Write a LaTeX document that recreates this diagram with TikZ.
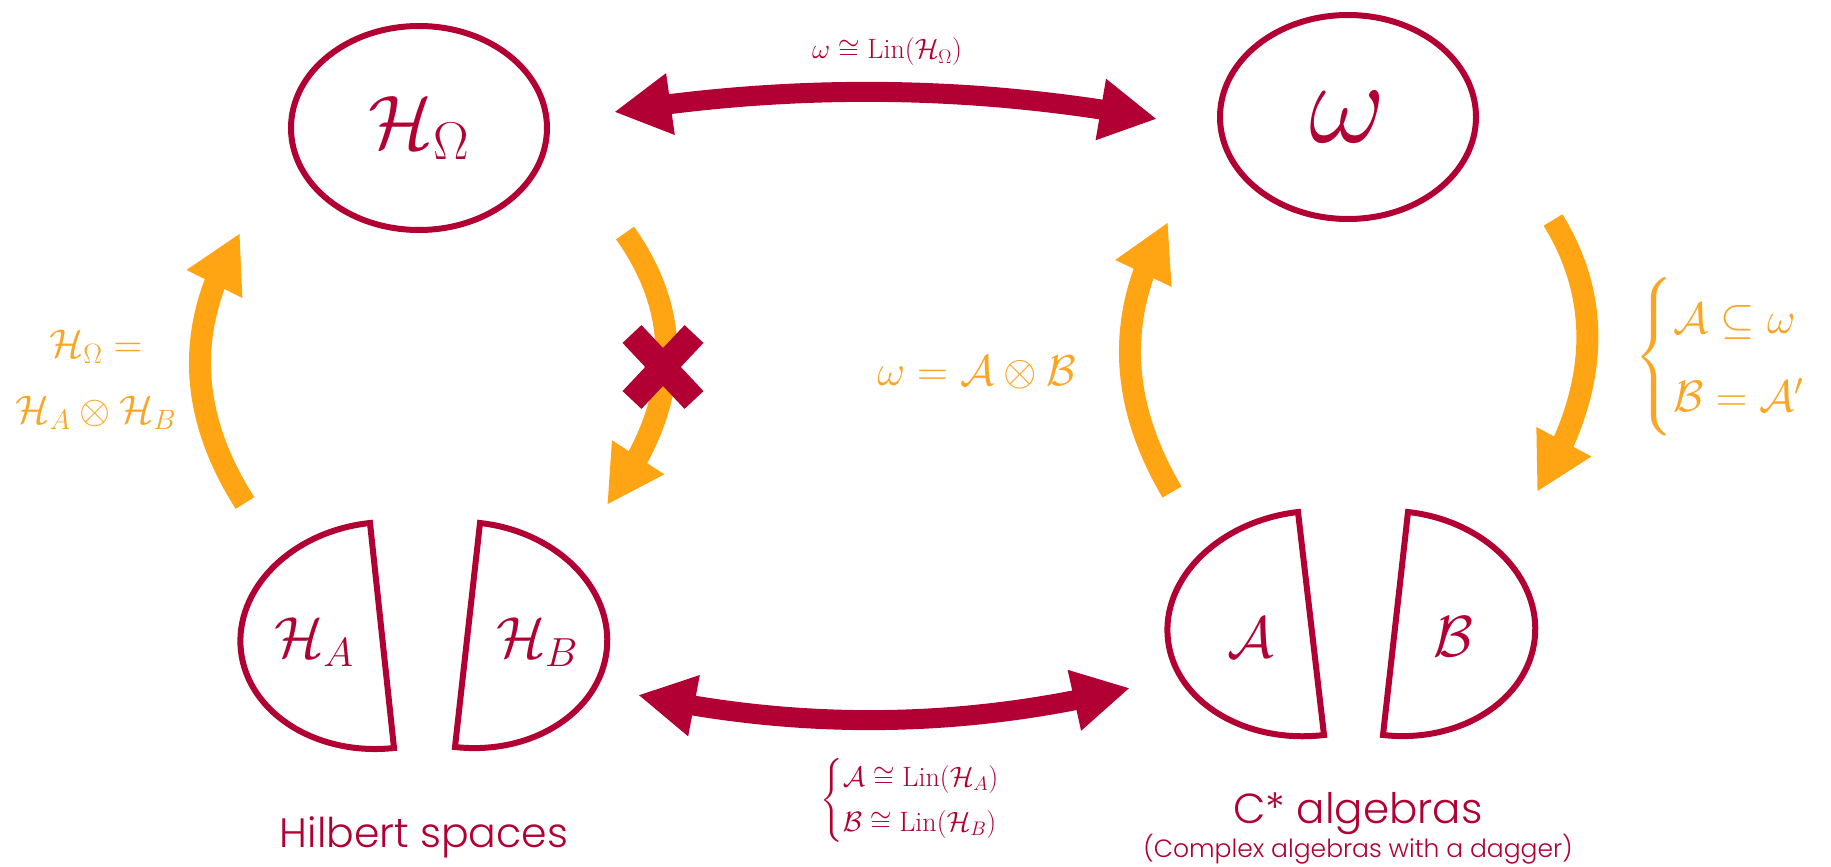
\RequirePackage{fix-cm}
\documentclass[tikz,border=0pt]{standalone}
\usepackage{amsmath,amssymb}
\usepackage{fontspec}
\newfontfamily\popfont{Poppins Light}
\usetikzlibrary{arrows.meta,bending,shapes.geometric}
\definecolor{myred}{RGB}{178,0,52}
\definecolor{myorange}{RGB}{255,165,20}
\definecolor{lblorange}{RGB}{250,165,35}
\tikzset{
  bigell/.style={ellipse, draw=myred, line width=6pt, minimum width=256pt, minimum height=204pt, inner sep=0pt, text=myred},
  piece/.style={draw=myred, line width=6pt},
  redarrow/.style={draw=myred, line width=20pt, {Triangle[length=57pt,width=58pt]}-{Triangle[length=57pt,width=58pt]}},
  orarrow/.style={draw=myorange, line width=22pt, -{Triangle[length=57pt,width=58pt]}},
  xbar/.style={draw=myred, line width=26pt, line cap=butt},
  redlbl/.style={text=myred, inner sep=0pt},
  orlbl/.style={text=lblorange, inner sep=0pt},
}
\begin{document}
\begin{tikzpicture}[x=1pt,y=-1pt]
\useasboundingbox (0,0) rectangle (1831,867);
\fill[white] (0,0) rectangle (1831,867);

% top ellipses
\node[bigell, font=\fontsize{76}{84}\selectfont] (HO) at (419,128) {$\mathcal{H}_\Omega$};
\node[bigell, font=\fontsize{118}{130}\selectfont] (W) at (1348,117) {$\omega$};

% bottom split shapes
\draw[piece] (370,523) .. controls (292.1,531.3) and (234.3,588.6) .. (240.9,650.6)
  .. controls (247.5,712.6) and (316.1,756.3) .. (394,748) -- cycle;
\draw[piece] (480,523) .. controls (556.8,531.6) and (613.6,588.7) .. (606.7,650.5)
  .. controls (599.8,712.3) and (531.8,755.6) .. (455,747) -- cycle;
\draw[piece] (1298,512) .. controls (1219.1,521.2) and (1160.8,578.6) .. (1168.0,640.2)
  .. controls (1175.2,701.8) and (1245.1,744.2) .. (1324,735) -- cycle;
\draw[piece] (1408,512) .. controls (1484.8,520.6) and (1541.6,577.4) .. (1534.7,639.0)
  .. controls (1527.8,700.6) and (1459.8,743.6) .. (1383,735) -- cycle;

\node[redlbl, font=\fontsize{58}{64}\selectfont] (HA) at (314,642) {$\mathcal{H}_A$};
\node[redlbl, font=\fontsize{58}{64}\selectfont] (HB) at (537,642) {$\mathcal{H}_B$};
\node[redlbl, font=\fontsize{58}{64}\selectfont] (A) at (1251,638) {$\mathcal{A}$};
\node[redlbl, font=\fontsize{58}{64}\selectfont] (B) at (1453,637) {$\mathcal{B}$};

% arrow end points
\coordinate (tl) at (614,112);
\coordinate (tr) at (1157,119);
\coordinate (bl) at (638,695);
\coordinate (br) at (1130,688);
\coordinate (l1s) at (245,503);
\coordinate (l1e) at (240,233);
\coordinate (l2s) at (625,233);
\coordinate (l2e) at (607,505);
\coordinate (r1s) at (1172,492);
\coordinate (r1e) at (1168,222);
\coordinate (r2s) at (1553,220);
\coordinate (r2e) at (1537,492);

% red double arrows
\draw[redarrow] (tl) .. controls (797,83) and (977.7,85.3) .. (tr);
\draw[redarrow] (bl) .. controls (803.3,730.7) and (967.3,728.3) .. (br);

% orange arrows
\draw[orarrow] (l1s) .. controls (186.7,411.7) and (185,321.7) .. (l1e);
\draw[orarrow] (l2s) .. controls (685.7,318.3) and (679.7,409) .. (l2e);
\draw[orarrow] (r1s) .. controls (1117.3,399.3) and (1116,309.3) .. (r1e);
\draw[orarrow] (r2s) .. controls (1603.7,302.7) and (1598.3,393.3) .. (r2e);

% red cross
\coordinate (xa) at (632,334);
\coordinate (xb) at (694,400);
\coordinate (xc) at (632,400);
\coordinate (xd) at (694,334);
\draw[xbar] (xa) -- (xb);
\draw[xbar] (xc) -- (xd);

% labels
\node[redlbl, font=\fontsize{28}{34}\selectfont] (toplbl) at (887,52) {$\omega \cong \mathrm{Lin}(\mathcal{H}_\Omega)$};
\node[redlbl, anchor=west, font=\fontsize{28}{37}\selectfont] (botlbl) at (820,800)
  {$\begin{cases}\mathcal{A}\cong\mathrm{Lin}(\mathcal{H}_A)\\ \mathcal{B}\cong\mathrm{Lin}(\mathcal{H}_B)\end{cases}$};
\node[orlbl, align=center, font=\fontsize{40}{66}\selectfont] (leftlbl) at (96,380)
  {$\mathcal{H}_\Omega =$\\ $\mathcal{H}_A\otimes\mathcal{H}_B$};
\node[orlbl, font=\fontsize{43}{50}\selectfont] (midlbl) at (977,373) {$\omega = \mathcal{A}\otimes\mathcal{B}$};
\node[orlbl, anchor=west, font=\fontsize{44}{65}\selectfont] (rightlbl) at (1634,357)
  {$\begin{cases}\mathcal{A}\subseteq\omega\\ \mathcal{B}=\mathcal{A}'\end{cases}$};

\node[redlbl, anchor=base, font=\popfont\fontsize{41}{48}\selectfont] (hs) at (424,847) {Hilbert spaces};
\node[redlbl, anchor=base, font=\popfont\fontsize{42}{48}\selectfont] (cs) at (1358,823) {C* algebras};
\node[redlbl, anchor=base, font=\popfont\fontsize{25}{30}\selectfont] (cx) at (1358,857) {(Complex algebras with a dagger)};
\end{tikzpicture}
\end{document}
